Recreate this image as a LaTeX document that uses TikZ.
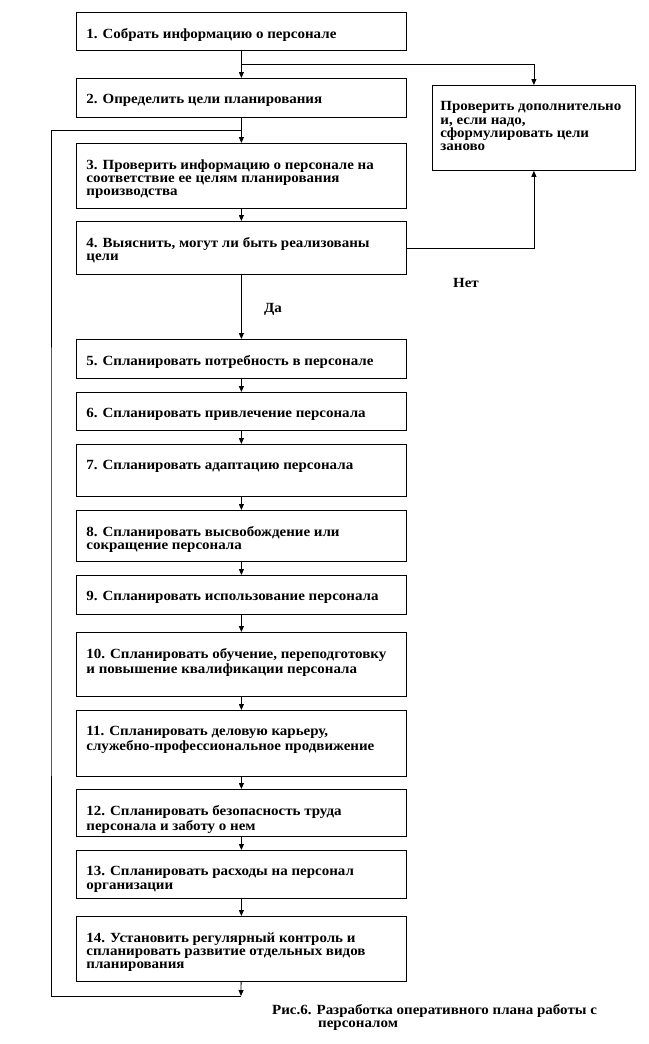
\documentclass[tikz,border=0pt]{standalone}
\usepackage{fontspec}
\setmainfont[FakeStretch=1.07]{Liberation Serif}
\usetikzlibrary{arrows.meta}

% body of a box: width, height, lines
\newcommand{\boxbody}[3]{\parbox[t][#2][t]{#1}{\vspace*{16pt}\strut #3}}

\tikzset{
  stepbox/.style={draw, line width=0.8pt, inner xsep=10pt, inner ysep=0pt,
    anchor=north west, font=\bfseries\fontsize{14}{13.4}\selectfont},
  flow/.style={line width=0.8pt, -{Triangle[length=6pt,width=5pt]}},
  link/.style={line width=0.8pt},
  answer/.style={font=\bfseries\fontsize{14}{13.4}\selectfont}
}

\begin{document}
\begin{tikzpicture}[x=1pt, y=-1pt]
    \useasboundingbox (0,0) rectangle (648,1044);

    % main column of steps
    \node[stepbox] (s1) at (76,12) {\boxbody{310pt}{38pt}{1. Собрать информацию о персонале}};
    \node[stepbox] (s2) at (76,78) {\boxbody{310pt}{39pt}{2. Определить цели планирования}};
    \node[stepbox] (s3) at (76,143) {\boxbody{310pt}{65pt}{3. Проверить информацию о персонале на\\
      соответствие ее целям планирования\\ производства}};
    \node[stepbox] (s4) at (76,221) {\boxbody{310pt}{53pt}{4. Выяснить, могут ли быть реализованы\\ цели}};
    \node[stepbox] (s5) at (76,339) {\boxbody{310pt}{39pt}{5. Спланировать потребность в персонале}};
    \node[stepbox] (s6) at (76,392) {\boxbody{310pt}{38pt}{6. Спланировать привлечение персонала}};
    \node[stepbox] (s7) at (76,444) {\boxbody{310pt}{52pt}{7. Спланировать адаптацию персонала}};
    \node[stepbox] (s8) at (76,510) {\boxbody{310pt}{51pt}{8. Спланировать высвобождение или\\ сокращение персонала}};
    \node[stepbox] (s9) at (76,575) {\boxbody{310pt}{39pt}{9. Спланировать использование персонала}};
    \node[stepbox] (s10) at (76,632) {\boxbody{310pt}{64pt}{10. Спланировать обучение, переподготовку\\
      и повышение квалификации персонала}};
    \node[stepbox] (s11) at (76,710) {\boxbody{310pt}{66pt}{11. Спланировать деловую карьеру,\\
      служебно-профессиональное продвижение}};
    \node[stepbox] (s12) at (76,789) {\boxbody{310pt}{47pt}{12. Спланировать безопасность труда\\
      персонала и заботу о нем}};
    \node[stepbox] (s13) at (76,850) {\boxbody{310pt}{48pt}{13. Спланировать расходы на персонал\\ организации}};
    \node[stepbox] (s14) at (76,916) {\boxbody{310pt}{65pt}{14. Установить регулярный контроль и\\
      спланировать развитие отдельных видов\\ планирования}};

    % side box
    \node[stepbox, inner xsep=8pt] (check) at (432,85) {\boxbody{187pt}{85pt}{Проверить дополнительно\\
      и, если надо,\\ сформулировать цели\\ заново}};

    % arrows down the column
    \draw[flow] (s1) -- (s2);
    \draw[flow] (s2) -- (s3);
    \draw[flow] (s3) -- (s4);
    \draw[flow] (s4) -- (s5);
    \foreach \a/\b in {5/6, 6/7, 7/8, 8/9, 9/10, 10/11, 11/12, 12/13, 13/14}
        \draw[flow] (s\a) -- (s\b);

    % branch to the side box
    \coordinate (split) at (241,64);
    \draw[flow] (split) -| (check.north);
    \draw[flow] (s4.east) -| (check.south);

    % loop back to step 3
    \coordinate (loopbot) at (241,996);
    \coordinate (loopleft) at (51,560);
    \coordinate (looptop) at (241,130);
    \draw[flow] (s14) -- (loopbot);
    \draw[link] (loopbot) -| (loopleft) |- (looptop);

    % answers
    \node[answer] (yes) at (273,309) {Да};
    \node[answer] (no) at (466,283) {Нет};

    % caption
    \node[answer, anchor=north west, align=left, inner sep=0pt,
      font=\bfseries\fontsize{14}{13}\selectfont] (caption) at (272,1004)
      {Рис.6. Разработка оперативного плана работы с\\ \hspace*{46pt}персоналом};
\end{tikzpicture}
\end{document}
